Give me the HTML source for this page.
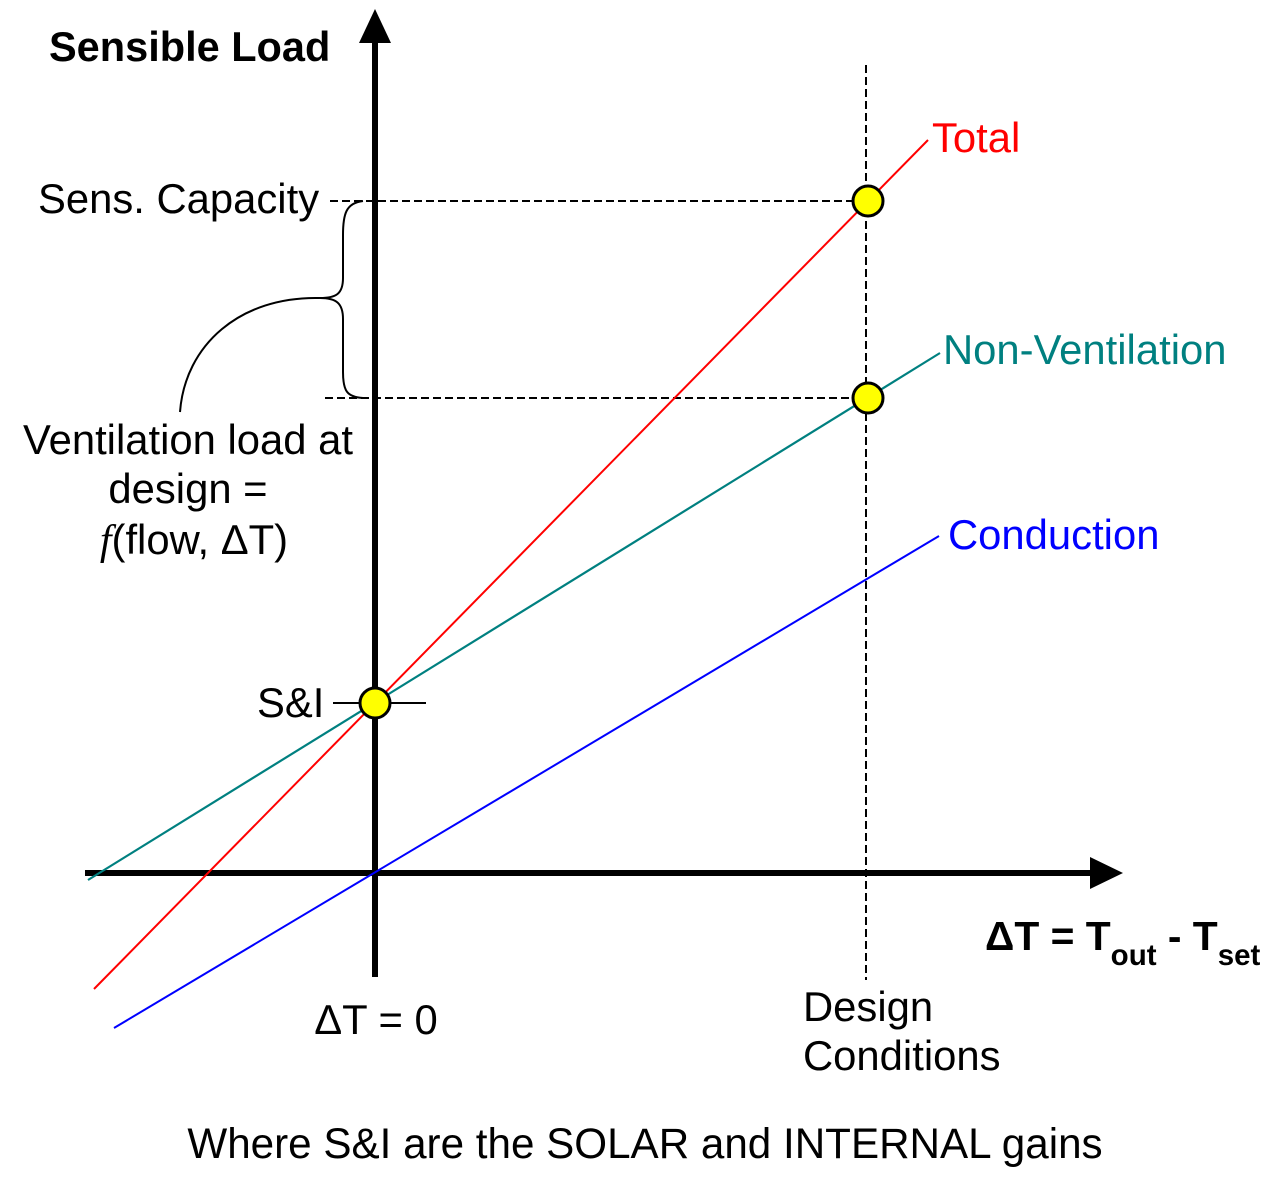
<!DOCTYPE html>
<html>
<head>
<meta charset="utf-8">
<style>
  html,body{margin:0;padding:0;background:#fff;}
  svg{display:block;}
  text{font-family:"Liberation Sans", Arial, sans-serif;}
</style>
</head>
<body>
<svg width="1274" height="1184" viewBox="0 0 1274 1184" xmlns="http://www.w3.org/2000/svg">
  <rect x="0" y="0" width="1274" height="1184" fill="#fff"/>

  <!-- dashed guide lines -->
  <g stroke="#000" stroke-width="2" stroke-dasharray="8,4" fill="none">
    <line x1="330" y1="201" x2="866" y2="201"/>
    <line x1="325" y1="398" x2="866" y2="398"/>
    <line x1="866" y1="65" x2="866" y2="980"/>
  </g>

  <!-- axes -->
  <line x1="375" y1="977" x2="375" y2="40" stroke="#000" stroke-width="6"/>
  <polygon points="359,43 391,43 375,9" fill="#000"/>
  <line x1="85" y1="873" x2="1092" y2="873" stroke="#000" stroke-width="6"/>
  <polygon points="1090,857 1090,889 1123,873" fill="#000"/>

  <!-- S&I tick -->
  <line x1="333" y1="703" x2="426" y2="703" stroke="#000" stroke-width="2"/>

  <!-- brace -->
  <path d="M363,201 C346,203 343,214 343,235 L343,278 C343,294 336,298 320,298 C336,298 343,303 343,319 L343,372 C343,391 347,397 363,398" fill="none" stroke="#000" stroke-width="2"/>
  <!-- arc -->
  <path d="M320,298 C240,296 185,345 180,412" fill="none" stroke="#000" stroke-width="2"/>

  <!-- series lines -->
  <line x1="94" y1="989" x2="928" y2="140" stroke="#ff0000" stroke-width="2"/>
  <line x1="88" y1="880" x2="940" y2="353" stroke="#008080" stroke-width="2.2"/>
  <line x1="114" y1="1028" x2="939" y2="536" stroke="#0000ff" stroke-width="2"/>

  <!-- points -->
  <g fill="#ffff00" stroke="#000" stroke-width="3">
    <circle cx="868" cy="201" r="15"/>
    <circle cx="868" cy="398" r="15"/>
    <circle cx="375" cy="703" r="15"/>
  </g>

  <!-- text -->
  <text x="49" y="61" font-size="41.5" font-weight="bold" fill="#000">Sensible Load</text>
  <text x="38" y="213" font-size="41.8" fill="#000">Sens. Capacity</text>

  <text x="932" y="152" font-size="41.8" fill="#ff0000">Total</text>
  <text x="943" y="364" font-size="41.8" fill="#008080">Non-Ventilation</text>
  <text x="948" y="549" font-size="41.8" fill="#0000ff">Conduction</text>

  <text x="188" y="454" font-size="41.8" text-anchor="middle" fill="#000">Ventilation load at</text>
  <text x="188" y="503" font-size="41.8" text-anchor="middle" fill="#000">design =</text>
  <text x="194" y="554" font-size="41.8" text-anchor="middle" fill="#000"><tspan font-family="Liberation Serif, serif" font-style="italic">f</tspan>(flow, ΔT)</text>

  <text x="257" y="717" font-size="41.8" fill="#000">S&amp;I</text>

  <text x="376" y="1034" font-size="41.8" text-anchor="middle" fill="#000">ΔT = 0</text>

  <text x="803" y="1021" font-size="41.8" fill="#000">Design</text>
  <text x="803" y="1070" font-size="41.8" fill="#000">Conditions</text>

  <text x="985" y="950" font-size="40.8" font-weight="bold" fill="#000">ΔT = T<tspan font-size="29.5" dy="15">out</tspan><tspan dy="-15"> - T</tspan><tspan font-size="29.5" dy="15">set</tspan></text>

  <text x="645" y="1158" font-size="42.2" text-anchor="middle" fill="#000">Where S&amp;I are the SOLAR and INTERNAL gains</text>
</svg>
</body>
</html>
